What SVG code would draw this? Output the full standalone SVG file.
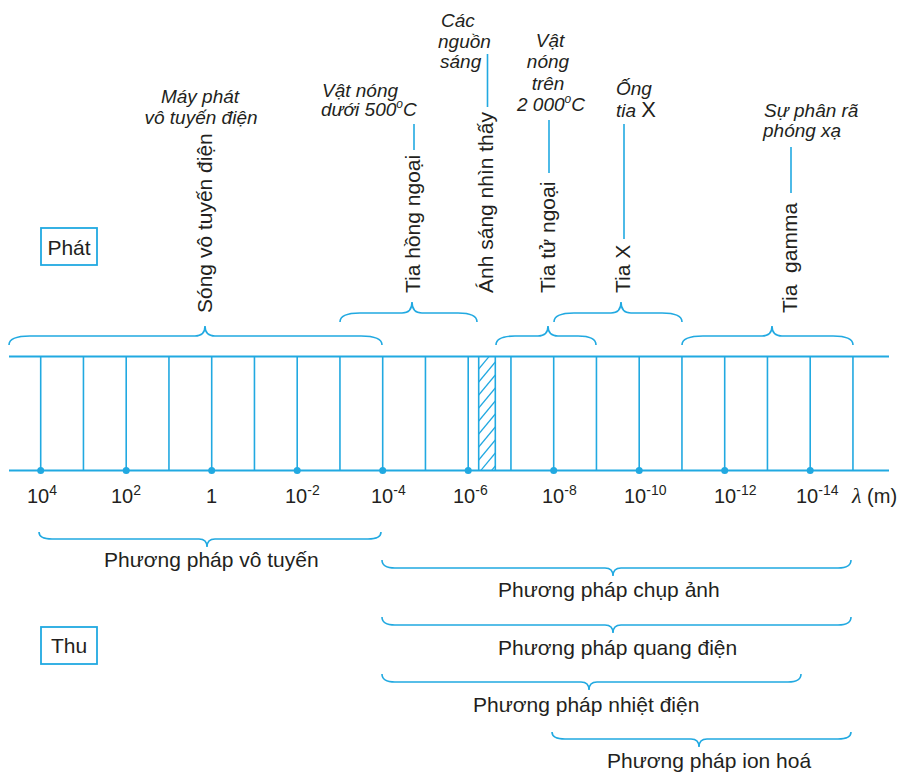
<svg xmlns="http://www.w3.org/2000/svg" width="901" height="774" viewBox="0 0 901 774">
<style>
.b{stroke:#21a9e1;fill:none}
.ln{stroke:#21a9e1;stroke-width:2;fill:none}
.vl{stroke:#21a9e1;stroke-width:1.6}
.br{stroke:#21a9e1;stroke-width:1.6;fill:none}
.dot{fill:#21a9e1}
text{font-family:"Liberation Sans",Arial,sans-serif;fill:#231f20}
.m{font-size:21px}
.it{font-size:19px;font-style:italic}
.tk{font-size:20px}
.sp{white-space:pre}
</style>
<defs>
<clipPath id="hc"><rect x="478.7" y="356.5" width="16.6" height="114"/></clipPath>
</defs>
<rect width="901" height="774" fill="#fff"/>

<g id="band">
<line class="ln" x1="9" y1="356.5" x2="889" y2="356.5"/>
<line class="ln" x1="9" y1="470.5" x2="889" y2="470.5"/>
<g class="vl">
<line x1="40.7" y1="356.5" x2="40.7" y2="470.5"/>
<line x1="83.45" y1="356.5" x2="83.45" y2="470.5"/>
<line x1="126.2" y1="356.5" x2="126.2" y2="470.5"/>
<line x1="168.95" y1="356.5" x2="168.95" y2="470.5"/>
<line x1="211.7" y1="356.5" x2="211.7" y2="470.5"/>
<line x1="254.45" y1="356.5" x2="254.45" y2="470.5"/>
<line x1="297.2" y1="356.5" x2="297.2" y2="470.5"/>
<line x1="339.95" y1="356.5" x2="339.95" y2="470.5"/>
<line x1="382.7" y1="356.5" x2="382.7" y2="470.5"/>
<line x1="425.45" y1="356.5" x2="425.45" y2="470.5"/>
<line x1="468.2" y1="356.5" x2="468.2" y2="470.5"/>
<line x1="478.7" y1="356.5" x2="478.7" y2="470.5"/>
<line x1="495.3" y1="356.5" x2="495.3" y2="470.5"/>
<line x1="510.95" y1="356.5" x2="510.95" y2="470.5"/>
<line x1="553.7" y1="356.5" x2="553.7" y2="470.5"/>
<line x1="596.45" y1="356.5" x2="596.45" y2="470.5"/>
<line x1="639.2" y1="356.5" x2="639.2" y2="470.5"/>
<line x1="681.95" y1="356.5" x2="681.95" y2="470.5"/>
<line x1="724.7" y1="356.5" x2="724.7" y2="470.5"/>
<line x1="767.45" y1="356.5" x2="767.45" y2="470.5"/>
<line x1="810.2" y1="356.5" x2="810.2" y2="470.5"/>
<line x1="852.95" y1="356.5" x2="852.95" y2="470.5"/>
</g>
<g clip-path="url(#hc)" stroke="#21a9e1" stroke-width="1.2">
<line x1="478.7" y1="369" x2="495.3" y2="349"/>
<line x1="478.7" y1="382" x2="495.3" y2="362"/>
<line x1="478.7" y1="395" x2="495.3" y2="375"/>
<line x1="478.7" y1="408" x2="495.3" y2="388"/>
<line x1="478.7" y1="421" x2="495.3" y2="401"/>
<line x1="478.7" y1="434" x2="495.3" y2="414"/>
<line x1="478.7" y1="447" x2="495.3" y2="427"/>
<line x1="478.7" y1="460" x2="495.3" y2="440"/>
<line x1="478.7" y1="473" x2="495.3" y2="453"/>
<line x1="478.7" y1="486" x2="495.3" y2="466"/>
</g>
<g class="dot">
<circle cx="40.7" cy="470.5" r="3.5"/>
<circle cx="126.2" cy="470.5" r="3.5"/>
<circle cx="211.7" cy="470.5" r="3.5"/>
<circle cx="297.2" cy="470.5" r="3.5"/>
<circle cx="382.7" cy="470.5" r="3.5"/>
<circle cx="468.2" cy="470.5" r="3.5"/>
<circle cx="553.7" cy="470.5" r="3.5"/>
<circle cx="639.2" cy="470.5" r="3.5"/>
<circle cx="724.7" cy="470.5" r="3.5"/>
<circle cx="810.2" cy="470.5" r="3.5"/>
</g>
</g>

<g id="ticks">
<text class="tk" x="27" y="503">10<tspan dy="-8" font-size="14">4</tspan></text>
<text class="tk" x="111" y="503">10<tspan dy="-8" font-size="14">2</tspan></text>
<text class="tk" x="206" y="503">1</text>
<text class="tk" x="285" y="503">10<tspan dy="-8" font-size="14">-2</tspan></text>
<text class="tk" x="371" y="503">10<tspan dy="-8" font-size="14">-4</tspan></text>
<text class="tk" x="453" y="503">10<tspan dy="-8" font-size="14">-6</tspan></text>
<text class="tk" x="542" y="503">10<tspan dy="-8" font-size="14">-8</tspan></text>
<text class="tk" x="624" y="503">10<tspan dy="-8" font-size="14">-10</tspan></text>
<text class="tk" x="714" y="503">10<tspan dy="-8" font-size="14">-12</tspan></text>
<text class="tk" x="796" y="503">10<tspan dy="-8" font-size="14">-14</tspan></text>
<text class="tk" x="852" y="503"><tspan font-family="Liberation Serif" font-style="italic" font-size="22">λ</tspan> (m)</text>
</g>

<g id="connectors">
<path class="br" d="M9,345 C9,339 15,336 30,336 L195,336 C201,336 205,333 205,326 C205,333 209,336 215,336 L361,336 C376,336 382,339 382,345"/>
<path class="br" d="M340,322 C340,316 346,313 360,313 L402,313 C408,313 412,310 412,302 C412,310 416,313 422,313 L458,313 C471,313 477,316 477,322"/>
<path class="br" d="M496,345 C496,339 502,336 515,336 L538,336 C544,336 548,333 548,326 C548,333 552,336 558,336 L578,336 C590,336 596,339 596,345"/>
<path class="br" d="M554,322 C554,316 560,313 574,313 L611,313 C617,313 621,310 621,302 C621,310 625,313 631,313 L662,313 C676,313 682,316 682,322"/>
<path class="br" d="M682,345 C682,339 688,336 703,336 L762,336 C768,336 772,333 772,326 C772,333 776,336 782,336 L833,336 C847,336 853,339 853,345"/>

<path class="br" d="M39,532 C39,537 43,539 52,539 L199,539 C204,539 207,542 207,547 C207,542 210,539 215,539 L368,539 C377,539 381,537 381,532"/>
<path class="br" d="M382,560 C382,565 386,568 395,568 L605,568 C610,568 613,571 613,576 C613,571 616,568 621,568 L838,568 C847,568 851,565 851,560"/>
<path class="br" d="M382,617 C382,622 386,625 395,625 L605,625 C610,625 613,628 613,633 C613,628 616,625 621,625 L838,625 C847,625 851,622 851,617"/>
<path class="br" d="M382,674 C382,679 386,682 395,682 L581,682 C586,682 589,685 589,690 C589,685 592,682 597,682 L788,682 C797,682 801,679 801,674"/>
<path class="br" d="M552,732 C552,737 556,739 565,739 L691,739 C696,739 699,742 699,747 C699,742 702,739 707,739 L838,739 C847,739 851,737 851,732"/>

<g class="vl" stroke-width="2">
<line x1="414" y1="124" x2="414" y2="150"/>
<line x1="487.5" y1="54" x2="487.5" y2="107"/>
<line x1="549" y1="120" x2="549" y2="173"/>
<line x1="624" y1="124" x2="624" y2="239"/>
<line x1="791" y1="147" x2="791" y2="193"/>
</g>
</g>

<g id="phat">
<rect x="41" y="228" width="56" height="37" fill="none" stroke="#21a9e1" stroke-width="1.8"/>
<text class="m" x="69" y="255" text-anchor="middle">Phát</text>
</g>
<g id="thu">
<rect x="41" y="627" width="56" height="37" fill="none" stroke="#21a9e1" stroke-width="1.8"/>
<text class="m" x="69" y="653" text-anchor="middle">Thu</text>
</g>

<g id="song-vo-tuyen">
<text class="it" x="200" y="103" text-anchor="middle">Máy phát</text>
<text class="it" x="201" y="124" text-anchor="middle">vô tuyến điện</text>
<text class="m" transform="translate(212,313) rotate(-90)">Sóng vô tuyến điện</text>
</g>

<g id="hong-ngoai">
<text class="it" x="322" y="97">Vật nóng</text>
<text class="it" x="321" y="116">dưới 500<tspan dy="-8" font-size="12">o</tspan><tspan dy="8">C</tspan></text>
<text class="m" transform="translate(420,293) rotate(-90)">Tia hồng ngoại</text>
</g>

<g id="anh-sang">
<text class="it" x="441" y="27">Các</text>
<text class="it" x="438" y="48">nguồn</text>
<text class="it" x="440" y="68">sáng</text>
<text class="m" transform="translate(493,293) rotate(-90)">Ánh sáng nhìn thấy</text>
</g>

<g id="tu-ngoai">
<text class="it" x="550" y="47" text-anchor="middle">Vật</text>
<text class="it" x="548" y="68" text-anchor="middle">nóng</text>
<text class="it" x="548" y="90" text-anchor="middle">trên</text>
<text class="it" x="517" y="111">2 000<tspan dy="-8" font-size="12">o</tspan><tspan dy="8">C</tspan></text>
<text class="m" transform="translate(555,293) rotate(-90)">Tia tử ngoại</text>
</g>

<g id="tia-x">
<text class="it" x="616" y="95">Ống</text>
<text class="it" x="616" y="117">tia <tspan font-style="normal" font-size="22">X</tspan></text>
<text class="m" transform="translate(630,293) rotate(-90)">Tia X</text>
</g>

<g id="gamma">
<text class="it" x="764" y="117">Sự phân rã</text>
<text class="it" x="763" y="137">phóng xạ</text>
<text class="m sp" transform="translate(797,313) rotate(-90)">Tia  gamma</text>
</g>

<g id="thu-labels">
<text class="m" x="104" y="567">Phương pháp vô tuyến</text>
<text class="m" x="498" y="597">Phương pháp chụp ảnh</text>
<text class="m" x="498" y="655">Phương pháp quang điện</text>
<text class="m" x="473" y="712">Phương pháp nhiệt điện</text>
<text class="m" x="607" y="768">Phương pháp ion hoá</text>
</g>
</svg>
